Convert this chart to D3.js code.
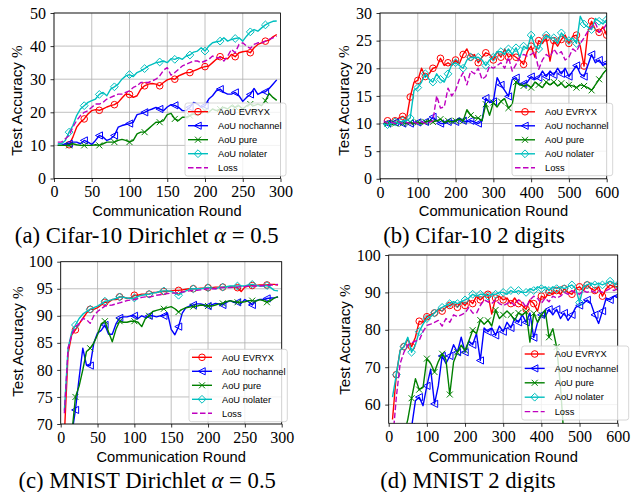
<!DOCTYPE html>
<html><head><meta charset="utf-8">
<script src="https://cdn.jsdelivr.net/npm/d3@7"></script>
<style>body{margin:0;background:#fff} svg{display:block}</style>
</head><body>
<svg id="chart" width="633" height="492"></svg>
<script>
// ---------------- DATA ----------------
const seriesNames = ["AoU EVRYX","AoU nochannel","AoU pure","AoU nolater","Loss"];

// Panel (a) Cifar-10 Dirichlet alpha = 0.5
const roundsA = [5,10,15,20,25,30,35,40,45,50,55,60,65,70,75,80,85,90,95,100,105,110,115,120,125,130,135,140,145,150,155,160,165,170,175,180,185,190,195,200,205,210,215,220,225,230,235,240,245,250,255,260,265,270,275,280,285,290,295];
const aEvryx = [10,10,10,10.2,12.5,15.5,17,18,19.5,20.5,20.8,20.6,21,21.6,22,22.3,23,24.3,25.5,25.4,24.5,25,27,28,28.5,28.7,28.5,28,29,29.8,30.2,30,31,31.5,32,32,32.5,33,33.5,33.8,34,35,36,36.8,36.3,36.2,37.5,36.8,38,38.3,38.5,38,39.5,40.5,41,41.5,41.8,42.8,43.5];
const aNochannel = [10,10,10.5,10.5,11,11,10.5,11.5,11,10.3,11.5,13,12.5,11.5,12,13,15.5,16,16.3,16.6,17,19.3,19.6,20,20.6,21,21.5,21,20.5,21.6,22.3,22.1,21.5,20.5,20.5,21.5,23,22.5,21.5,22,24,25,26.5,27,26,25.5,25.5,26,25,23.3,24.5,25.4,27.2,25.4,26,26.2,27.2,28.5,29.8];
const aPure = [10,10,10,10,10.5,10.2,10,10,10,10,10.2,10,10.5,11,11,11,11.5,11.8,11.5,11,11.5,13.5,14,14,15,16,17,17,17.5,19.3,19.7,18,17.5,18.5,18.5,19,19.5,19,20,20.5,20,21,20.5,21,21.5,21,22,21.5,22,21,22,22.5,22,22.5,22,23.5,25.7,24.5,23.6];
const aNolater = [10.5,10.5,11.5,14,16,19,21,22,23,23.5,24,25.4,26,25,27,27.7,28.5,30,31,31.4,30.8,32,32.5,33.2,34,34.5,35,35.2,35.5,35,36.2,36,36.5,36,37,37.3,38.2,38.5,39.5,38.5,40,41,41.3,41.5,42.5,41.5,42,42.3,42.5,41.5,43,44.3,45,44.5,45.5,46.4,47,47.5,47.6];
const aLoss = [11,11,12,13,15.5,17.5,19,20,20.5,21.5,22.5,22.5,23,24,24.5,25,25.5,25.5,26,26.5,27.5,28,29,29,29,29.5,30,31,32.7,33.5,31.2,32,33,34,34.5,35,35.5,35.5,35,35.5,36,37,36.5,36.5,35.5,37,39,38,40.5,41,40,39.3,40.5,41,41,41.5,42,42.5,43];

// Panel (b) Cifar-10 2 digits
const roundsB = [10,20,30,40,50,60,70,80,90,100,110,120,130,140,150,160,170,180,190,200,210,220,230,240,250,260,270,280,290,300,310,320,330,340,350,360,370,380,390,400,410,420,430,440,450,460,470,480,490,500,510,520,530,540,550,560,570,580,590,600];
const bEvryx = [10,10.5,10.2,10.5,11,11.3,10.8,14.8,17.5,17.8,20,18.5,19,20,20.2,21.8,20.5,21,20.5,21.5,20.8,22.5,23.5,22,22.5,21,22,22.8,22.5,21.5,23,22,23.5,22,22.5,22,21.5,20.7,23,24,22,25,24.5,25.5,21.3,25,24,25.2,26,24.5,25.8,26,24,20.4,26.5,28.5,27,26.5,27.5,26];
const bNochannel = [10,10,10,10.2,10,10,10.2,10,10,10.2,10,10.3,10.3,11.2,10.5,10,10,10.3,10.5,10.3,11,10.5,10.3,10.5,10.3,10,10.5,14.6,13.8,14,18.3,17,16,14.9,18,18.3,17,17.2,17.5,18.5,18,18.3,19.5,18.5,19.5,18.8,20,19,20,18.5,19.5,20.5,19,18.5,20.5,22.5,21,21.5,20.5,21];
const bPure = [10,10,9.8,10,10.2,10,10,10.2,10,10.2,10,10.3,10.5,10.3,10.5,10.8,10.2,10.5,10.3,10.5,10.8,10.5,12.5,11.5,11,11,10.5,13.5,11.5,13.8,13,14,14.5,12.8,13.5,17.5,17,16.8,17,16.5,17.5,17,16.5,17.5,17,17.5,16.8,17.3,16.5,17,16.8,16.5,17,16.8,16.5,16,17,18,19,19.8];
const bNolater = [9.8,9.8,10,10.3,10,10.5,10.5,11,16,16.5,17.5,19,18,17.5,19,18,17.5,19,20.7,21,20.5,20,21.5,22,21.9,22,21.5,20.5,21.5,22,23,23,22.5,23.5,22.5,23.7,22,24,23.5,26,24,23.5,25,26,25.5,25.5,24.5,26.4,25.5,25,25.5,24.5,29.4,28,27.5,27,29,28.5,28,28.8];
const bLoss = [10.5,10,10.2,10,10.3,10,10.2,10,10.2,10,10.3,10,10.2,10.5,15,12.8,13,16.4,15,16,18,19.2,17,19.5,19,20,18,18.5,20.4,20,20.5,21,20,22,19.5,20.7,22,22.5,22.2,22.5,23,19.8,21.5,22.5,22,23.5,22.5,23,21.5,22,23.5,23,24.5,25.5,26.7,27.5,28.2,26.5,27,28];

// Panel (c) MNIST Dirichlet alpha = 0.5
const roundsC = roundsA.slice();
const cEvryx = [68,83,86.5,87.4,88.5,89.5,90.5,91.2,91.2,91.5,92,92.5,92.5,93,93,93.5,93.5,93.2,93.3,93.8,93.8,94,94,94,94.3,94.3,94.5,94.5,94.5,94.6,94.7,94.7,94.8,94.9,95,95,95,95.1,95.1,95.2,95.2,95.3,95.3,95.3,95.4,95.4,95.3,95.2,94.5,95.3,95.5,95.6,95.6,95.7,95.7,95.7,95.8,95.8,95.7];
const cNochannel = [55,60,68,72.6,78.5,84,80.9,80.8,85,86.8,87.3,88.3,86.6,86.6,88.5,89.6,89.8,89.8,90,90,89.5,90,89.7,90,90,89.8,90,90,90.5,87.5,86.5,88,90.5,91.5,91.8,92,92.2,92.2,92,91.8,92,92.3,92.2,92,92.5,92.8,92.5,92.5,92.3,93,92.6,92,92.8,93,93,93.2,93.3,93.3,93.5];
const cPure = [50,58,68,75,77,80,83.4,84,85,86.5,88.5,89,87,85.2,87.5,89,88.8,88.8,89,89,88.8,88,89.5,90,90.8,91,91.2,91.3,91.5,91.7,91.3,90.7,91.2,91.5,91.6,91.7,91.8,92,91.9,91.8,91.8,92,92.2,92.3,92.6,92.8,92.6,92.5,92.5,92.6,92.8,92.8,92.7,93,92.8,92.5,92.8,93.3,93.5];
const cNolater = [72.5,84,87,88.3,89.5,90.3,90.8,91.2,91.5,91.8,92.2,92.7,92.8,93,93.2,93.5,93.4,93.3,93.2,93.3,93.6,93.8,93.9,94,94.2,94.3,94.5,94.6,94.6,94.5,94.2,93.8,94.3,94.6,94.9,95,95,95,95.1,95.2,95.1,95,95.2,95.3,95.4,95.5,95.5,95.5,95.5,95.5,95.7,95.8,95.6,95.5,95.5,95.6,95.2,94.7,94.6];
const cLoss = [72,84,86.5,88,88.5,89.5,89.3,88.6,90,90.8,91.3,91.8,91.9,92,92.2,92.4,92.6,92.8,92.9,93,93.2,93.4,93.5,93.5,93.6,93.8,93.9,94,94.1,94.2,94.2,94.3,94.4,94.5,94.6,94.7,94.7,94.8,94.9,95,95,95,95.1,95.2,95.2,95.2,95.3,95.3,95.4,95.4,95.5,95.5,95.5,95.5,95.6,95.6,95.7,95.7,95.8];

// Panel (d) MNIST 2 digits
const roundsD = roundsB.slice();
const dEvryx = [56,68,74.5,75.5,77.5,75.5,78,82.3,82,83.5,84,84.5,85.5,85,86,86.5,87,86,87.5,86.5,88,87,89,88,89,89.5,84.2,88.5,89,88,88.5,87,88.5,87,86.5,85.5,88,87,85,89,88.5,90,89.5,90.5,89.5,91,90,89.5,91,91.5,90.5,92,91,90.5,91.5,89,91,92,91.5,91.5];
const dNochannel = [40,42,45,48,51,54,61,62,59.7,65,69.5,60.2,65,73,71,73,76,74,78,74,77,76,79,71.8,80.5,79.5,80.5,78.5,81,79.5,82,80.5,83,82,84,82,84.5,77.9,82,84,83.5,85.5,84,85.5,83,84.5,82.5,84,86,86.5,87,88,87,84,81.7,85,88.5,88,89,89];
const dPure = [40,43,47,52,56,61.7,66.9,64,64.6,72.3,71,68.7,71.5,73.6,72,62.7,71.4,74,75.9,74.5,77,79.9,79,82.6,81.5,82.5,81,85.3,83,84,85,84,82.5,84.5,84,84.8,76.7,84.4,82,84,85.3,78,80.3,75.4,65,50,null,null,null,null,null,null,null,null,null,null,null,null,null,null];
const dNolater = [62,68,74.5,75.5,78,74,76,79.5,81.5,83,83.5,84.5,85.5,86,86.5,87,87.5,87,87.5,88,88.5,89.5,89,89.5,89.5,89,89.5,89.5,90,90,89.5,90.5,90,90.5,90,90,91,90.5,91.5,91,91.5,90.5,91.5,91,91.5,91,91.5,92,91,87.3,91.5,92,92.5,92,92.5,92,92.5,93,92.5,92];
const dLoss = [50,62,71,74,76,76.5,77,77.2,79.5,81.2,81.5,82,82.5,81,83,82,84,83.5,84,84.5,86,84.5,84.4,86.5,88,87.5,87,88,87,86.5,87,87.5,86.5,88,87.5,86,88,89,88.4,87,88.5,87.5,89,88.5,89,90,89.5,90.5,90,89.5,90.5,90,90.5,90,90.5,90,90.5,91,90.5,91];

// Tick values
const xTicks300 = [0,50,100,150,200,250,300];
const xTicks600 = [0,100,200,300,400,500,600];
const yTicksA = [0,10,20,30,40,50];
const yTicksB = [0,5,10,15,20,25,30];
const yTicksC = [70,75,80,85,90,95,100];
const yTicksD = [60,70,80,90,100];

// ---------------- STYLE / LAYOUT ----------------
const seriesStyle = [
  {color:"#ff0000", marker:"circle"},
  {color:"#0000ff", marker:"tri"},
  {color:"#008000", marker:"x"},
  {color:"#00bfbf", marker:"diamond"},
  {color:"#bf00bf", marker:null, dash:"5.5,2.5"}
];

const panels = [
  {id:"a", rounds:roundsA, series:[aEvryx,aNochannel,aPure,aNolater,aLoss], xDomain:[0,300], yDomain:[0,50],
   xTicks:xTicks300, yTicks:yTicksA, box:{l:54,r:280.5,t:13,b:178.5},
   ylab:{x:21.5,y:100.5}, xlab:{x:167,y:216},
   cap:{x:146.7,y:243.3,parts:["(a) Cifar-10 Dirichlet ","α"," = 0.5"]},
   leg:{x:185,y:103,w:101,h:73,start:8.7,gap:14}},
  {id:"b", rounds:roundsB, series:[bEvryx,bNochannel,bPure,bNolater,bLoss], xDomain:[0,600], yDomain:[0,30],
   xTicks:xTicks600, yTicks:yTicksB, box:{l:380,r:606.7,t:13,b:178.8},
   ylab:{x:349,y:100.5}, xlab:{x:493.5,y:216},
   cap:{x:474,y:243.3,parts:["(b) Cifar-10 2 digits"]},
   leg:{x:512,y:103.3,w:100.7,h:72.4,start:8.5,gap:14}},
  {id:"c", rounds:roundsC, series:[cEvryx,cNochannel,cPure,cNolater,cLoss], xDomain:[0,300], yDomain:[70,100],
   xTicks:xTicks300, yTicks:yTicksC, box:{l:60.7,r:281.7,t:261.7,b:424},
   ylab:{x:23,y:341.5}, xlab:{x:171.2,y:462},
   cap:{x:147.2,y:487.5,parts:["(c) MNIST Dirichlet ","α"," = 0.5"]},
   leg:{x:189,y:349.3,w:98.3,h:72.4,start:8,gap:14}},
  {id:"d", rounds:roundsD, series:[dEvryx,dNochannel,dPure,dNolater,dLoss], xDomain:[0,600], yDomain:[55,100],
   xTicks:xTicks600, yTicks:yTicksD, box:{l:388.7,r:617.7,t:255,b:423.3},
   ylab:{x:349.5,y:339.5}, xlab:{x:503.2,y:462},
   cap:{x:468,y:487.5,parts:["(d) MNIST 2 digits"]},
   leg:{x:521.7,y:346,w:107,h:74,start:8,gap:14.4}}
];

const svg = d3.select("#chart");
const defs = svg.append("defs");
const SANS = "'Liberation Sans', Arial, sans-serif";
const SERIF = "'Liberation Serif', 'Times New Roman', serif";

function drawMarker(sel, type, color, cx, cy) {
  const g = sel.append("g").attr("transform", `translate(${cx},${cy})`)
    .attr("fill","none").attr("stroke",color).attr("stroke-width",1);
  if (type === "circle") g.append("circle").attr("r",3.3);
  else if (type === "tri") g.append("path").attr("d","M-3.8,0L3.2,-3.6L3.2,3.6Z");
  else if (type === "x") g.append("path").attr("d","M-3,-3L3,3M-3,3L3,-3");
  else if (type === "diamond") g.append("path").attr("d","M0,-3.9L3.9,0L0,3.9L-3.9,0Z");
}

panels.forEach(p => {
  const B = p.box;
  const x = d3.scaleLinear().domain(p.xDomain).range([B.l, B.r]);
  const y = d3.scaleLinear().domain(p.yDomain).range([B.b, B.t]);
  const g = svg.append("g").attr("class","panel-"+p.id);

  // grid
  g.append("g").selectAll("line").data(p.xTicks).join("line")
    .attr("x1",d=>x(d)).attr("x2",d=>x(d)).attr("y1",B.t).attr("y2",B.b)
    .attr("stroke","#b0b0b0").attr("stroke-width",0.8);
  g.append("g").selectAll("line").data(p.yTicks).join("line")
    .attr("x1",B.l).attr("x2",B.r).attr("y1",d=>y(d)).attr("y2",d=>y(d))
    .attr("stroke","#b0b0b0").attr("stroke-width",0.8);

  // clip
  defs.append("clipPath").attr("id","clip-"+p.id).append("rect")
    .attr("x",B.l).attr("y",B.t).attr("width",B.r-B.l).attr("height",B.b-B.t);
  const plot = g.append("g").attr("clip-path",`url(#clip-${p.id})`);

  p.series.forEach((vals, i) => {
    const st = seriesStyle[i];
    const pts = p.rounds.map((r,k) => ({r, v: vals[k]}));
    const line = d3.line().defined(d => d.v != null).x(d => x(d.r)).y(d => y(d.v));
    plot.append("path").datum(pts).attr("d", line)
      .attr("fill","none").attr("stroke",st.color).attr("stroke-width",1.4)
      .attr("stroke-linejoin","round")
      .attr("stroke-dasharray", st.dash || null);
    if (st.marker) {
      pts.filter(d => d.v != null && d.r % 20 === 0)
        .forEach(d => drawMarker(plot, st.marker, st.color, x(d.r), y(d.v)));
    }
  });

  // spines
  g.append("rect").attr("x",B.l).attr("y",B.t).attr("width",B.r-B.l).attr("height",B.b-B.t)
    .attr("fill","none").attr("stroke","#000").attr("stroke-width",0.8);

  // axes
  const ax = g.append("g").attr("transform",`translate(0,${B.b})`)
    .call(d3.axisBottom(x).tickValues(p.xTicks).tickSize(3.5).tickPadding(4).tickFormat(d3.format("d")));
  const ay = g.append("g").attr("transform",`translate(${B.l},0)`)
    .call(d3.axisLeft(y).tickValues(p.yTicks).tickSize(3.5).tickPadding(4.5).tickFormat(d3.format("d")));
  [ax, ay].forEach(a => {
    a.select(".domain").remove();
    a.selectAll(".tick line").attr("stroke","#000").attr("stroke-width",0.8);
    a.selectAll(".tick text").attr("font-family",SERIF).attr("font-size",16).attr("fill","#000");
  });

  // axis labels
  g.append("text").attr("x",p.xlab.x).attr("y",p.xlab.y).attr("text-anchor","middle")
    .attr("font-family",SANS).attr("font-size",14.7).text("Communication Round");
  const yl = g.append("text").attr("transform",`translate(${p.ylab.x},${p.ylab.y}) rotate(-90)`)
    .attr("text-anchor","middle").attr("font-size",15.2);
  yl.append("tspan").attr("font-family",SANS).text("Test Accuracy ");
  yl.append("tspan").attr("font-family",SERIF).text("%");

  // caption
  const cap = g.append("text").attr("x",p.cap.x).attr("y",p.cap.y).attr("text-anchor","middle")
    .attr("font-family",SERIF).attr("font-size",22.7);
  p.cap.parts.forEach((t,k) => {
    const ts = cap.append("tspan").text(t);
    if (t === "α") ts.attr("font-style","italic");
  });

  // legend
  const L = p.leg;
  const lg = g.append("g");
  lg.append("rect").attr("x",L.x).attr("y",L.y).attr("width",L.w).attr("height",L.h)
    .attr("rx",2.5).attr("fill","#fff").attr("fill-opacity",0.8)
    .attr("stroke","#cccccc").attr("stroke-width",0.8);
  seriesNames.forEach((name,i) => {
    const st = seriesStyle[i];
    const cy = L.y + L.start + i*L.gap;
    lg.append("line").attr("x1",L.x+3).attr("x2",L.x+23).attr("y1",cy).attr("y2",cy)
      .attr("stroke",st.color).attr("stroke-width",1.4).attr("stroke-dasharray",st.dash||null);
    if (st.marker) drawMarker(lg, st.marker, st.color, L.x+13, cy);
    lg.append("text").attr("x",L.x+33).attr("y",cy).attr("dy","0.35em")
      .attr("font-family",SANS).attr("font-size",9.3).attr("fill","#000").text(name);
  });
});
</script>
</body></html>
